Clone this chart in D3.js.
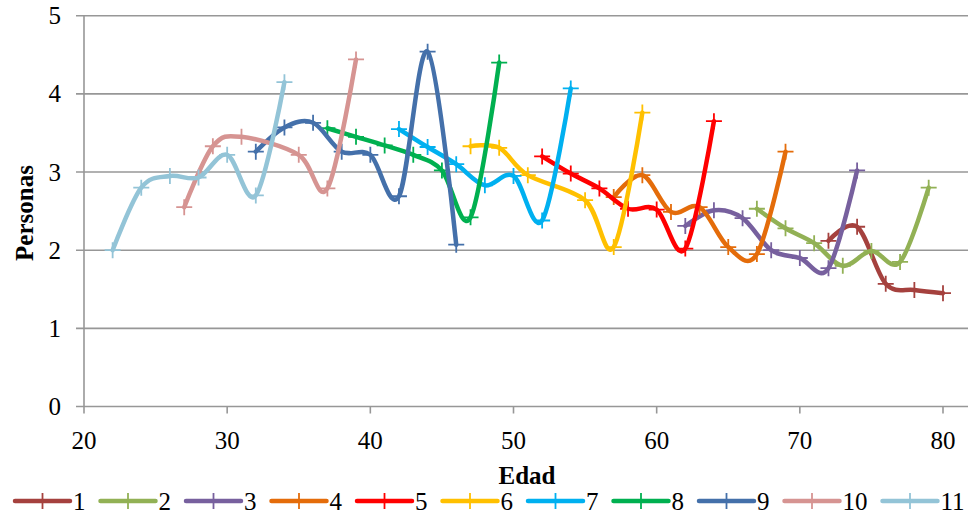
<!DOCTYPE html>
<meta charset="utf-8">
<body style="margin:0;background:#fff">
<script src="https://cdnjs.cloudflare.com/ajax/libs/d3/7.8.5/d3.min.js"></script>
<script>
// one array of ages and one of values per series (cohorts, every 2 years)
var names = ["1", "2", "3", "4", "5", "6", "7", "8", "9", "10", "11"];
var colors = ["#A5413E", "#92B155", "#77609E", "#E46C0A", "#FF0000", "#FFC000",
              "#00B0F0", "#00B050", "#4470AA", "#D69492", "#93C4D7"];

var ages1 = [72, 74, 76, 78, 80];
var vals1 = [2.12, 2.30, 1.57, 1.49, 1.45];
var ages2 = [67, 69, 71, 73, 75, 77, 79];
var vals2 = [2.53, 2.28, 2.09, 1.80, 1.99, 1.85, 2.80];
var ages3 = [62, 64, 66, 68, 70, 72, 74];
var vals3 = [2.31, 2.51, 2.41, 2.00, 1.90, 1.77, 3.02];
var ages4 = [57, 59, 61, 63, 65, 67, 69];
var vals4 = [2.68, 2.96, 2.49, 2.55, 2.04, 1.95, 3.26];
var ages5 = [52, 54, 56, 58, 60, 62, 64];
var vals5 = [3.20, 2.98, 2.79, 2.53, 2.52, 2.02, 3.65];
var ages6 = [47, 49, 51, 55, 57, 59];
var vals6 = [3.33, 3.31, 2.96, 2.64, 2.04, 3.76];
var ages7 = [42, 44, 46, 48, 50, 52, 54];
var vals7 = [3.55, 3.32, 3.10, 2.83, 2.95, 2.38, 4.07];
var ages8 = [37, 39, 41, 43, 45, 47, 49];
var vals8 = [3.56, 3.45, 3.34, 3.22, 3.02, 2.42, 4.40];
var ages9 = [32, 34, 36, 38, 40, 42, 44, 46];
var vals9 = [3.26, 3.57, 3.63, 3.26, 3.22, 2.69, 4.54, 2.07];
var ages10 = [27, 29, 31, 35, 37, 39];
var vals10 = [2.55, 3.33, 3.45, 3.22, 2.79, 4.44];
var ages11 = [22, 24, 26, 28, 30, 32, 34];
var vals11 = [2.00, 2.80, 2.95, 2.93, 3.22, 2.70, 4.15];

var xTicks = [20, 30, 40, 50, 60, 70, 80];
var yTicks = [0, 1, 2, 3, 4, 5];

var allAges = [ages1, ages2, ages3, ages4, ages5, ages6, ages7, ages8, ages9, ages10, ages11];
var allVals = [vals1, vals2, vals3, vals4, vals5, vals6, vals7, vals8, vals9, vals10, vals11];
var series = names.map(function(n, i) {
  return { name: n, color: colors[i],
           pts: allAges[i].map(function(a, j) { return [a, allVals[i][j]]; }) };
});

var width = 973, height = 516;
var FONT = "'Liberation Serif'";
var svg = d3.select("body").append("svg")
  .attr("width", width)
  .attr("height", height);

var x = d3.scaleLinear().domain([20, 80]).range([84, 943]);
var y = d3.scaleLinear().domain([0, 5]).range([406.5, 15.7]);
var right = 968;

// gridlines + y ticks
svg.append("g").selectAll("line")
  .data(yTicks)
  .enter().append("line")
  .attr("x1", 76).attr("x2", right)
  .attr("y1", function(d) { return y(d); })
  .attr("y2", function(d) { return y(d); })
  .attr("stroke", "#979797")
  .attr("stroke-width", 1.6);

// y axis line
svg.append("line")
  .attr("x1", x(20)).attr("x2", x(20))
  .attr("y1", y(5)).attr("y2", y(0))
  .attr("stroke", "#979797").attr("stroke-width", 1.6);

// x ticks
svg.append("g").selectAll("line")
  .data(xTicks)
  .enter().append("line")
  .attr("x1", function(d) { return x(d); })
  .attr("x2", function(d) { return x(d); })
  .attr("y1", y(0)).attr("y2", y(0) + 7)
  .attr("stroke", "#979797").attr("stroke-width", 1.6);

svg.append("g").selectAll("text")
  .data(yTicks)
  .enter().append("text")
  .attr("x", 61)
  .attr("y", function(d) { return y(d) + 8.5; })
  .attr("text-anchor", "end")
  .style("font-family", FONT)
  .style("font-size", "25px")
  .text(function(d) { return d; });

svg.append("g").selectAll("text")
  .data(xTicks)
  .enter().append("text")
  .attr("x", function(d) { return x(d); })
  .attr("y", 449)
  .attr("text-anchor", "middle")
  .style("font-family", FONT)
  .style("font-size", "25px")
  .text(function(d) { return d; });

svg.append("text")
  .attr("x", 527).attr("y", 484)
  .attr("text-anchor", "middle")
  .style("font-family", FONT)
  .style("font-size", "25px")
  .style("font-weight", "bold")
  .text("Edad");

svg.append("text")
  .attr("transform", "translate(33,213) rotate(-90)")
  .attr("text-anchor", "middle")
  .style("font-family", FONT)
  .style("font-size", "25px")
  .style("font-weight", "bold")
  .text("Personas");

// series lines, smoothed like the spreadsheet
var line = d3.line()
  .x(function(d) { return x(d[0]); })
  .y(function(d) { return y(d[1]); })
  .curve(d3.curveCatmullRom.alpha(0));

var sg = svg.append("g").selectAll("g")
  .data(series)
  .enter().append("g");

sg.append("path")
  .attr("d", function(d) { return line(d.pts); })
  .attr("fill", "none")
  .attr("stroke", function(d) { return d.color; })
  .attr("stroke-width", 4.5)
  .attr("stroke-linejoin", "round")
  .attr("stroke-linecap", "round");

var m = 8;
sg.selectAll(".mk")
  .data(function(d) { return d.pts.map(function(p) { return { p: p, c: d.color }; }); })
  .enter().append("path")
  .attr("class", "mk")
  .attr("d", function(d) {
    var cx = x(d.p[0]), cy = y(d.p[1]);
    return "M" + (cx - m) + "," + cy + "H" + (cx + m) + "M" + cx + "," + (cy - m) + "V" + (cy + m);
  })
  .attr("stroke", function(d) { return d.c; })
  .attr("stroke-width", 1.8);

// legend
var lg = svg.append("g");
var lx = 15, ly = 501;
series.forEach(function(s) {
  lg.append("line")
    .attr("x1", lx).attr("x2", lx + 55)
    .attr("y1", ly).attr("y2", ly)
    .attr("stroke", s.color).attr("stroke-width", 4.5)
    .attr("stroke-linecap", "round");
  lg.append("line")
    .attr("x1", lx + 27.5).attr("x2", lx + 27.5)
    .attr("y1", ly - 8).attr("y2", ly + 8)
    .attr("stroke", s.color).attr("stroke-width", 1.8);
  var t = lg.append("text")
    .attr("x", lx + 58).attr("y", ly + 9)
    .style("font-family", FONT)
    .style("font-size", "25px")
    .text(s.name);
  lx += 58 + t.node().getComputedTextLength() + 15;
});
</script>
</body>
